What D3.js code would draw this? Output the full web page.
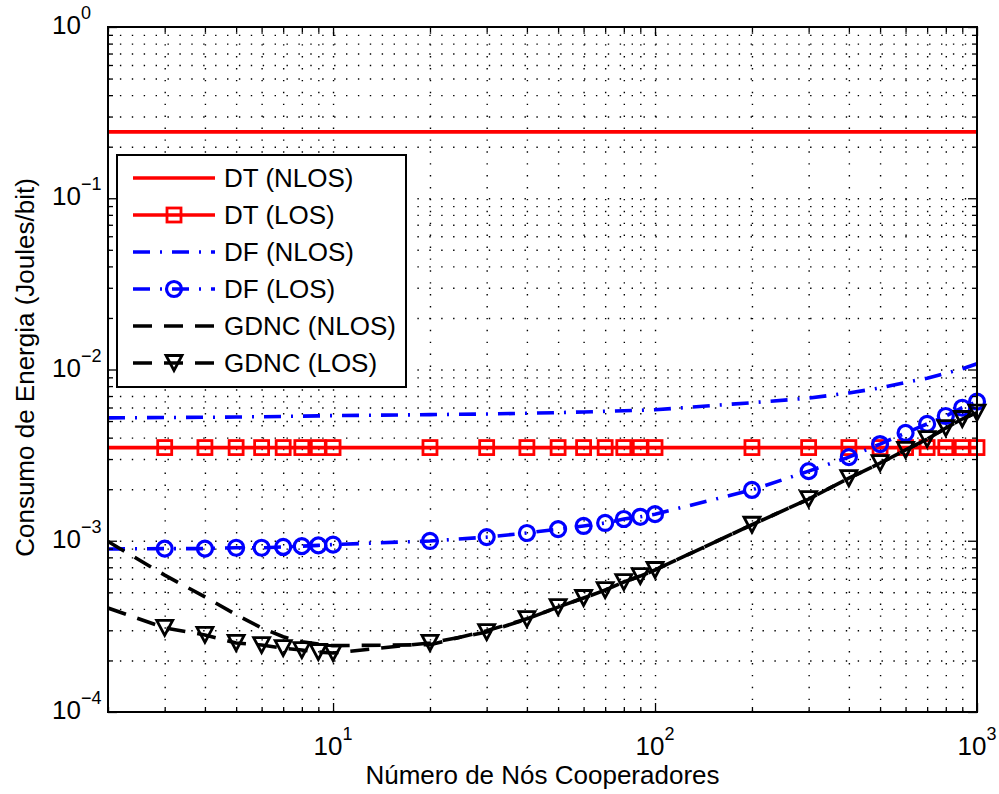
<!DOCTYPE html>
<html><head><meta charset="utf-8">
<script src="https://cdn.jsdelivr.net/npm/d3@7"></script>
<style>
body{margin:0;background:#fff;}
svg{display:block;font-family:"Liberation Sans",Arial,Helvetica,sans-serif;}
</style></head>
<body><svg id="c" width="999" height="794"></svg>
<script>
const xVals = [2,3,4,5,6,7,8,9,10,20,30,40,50,60,70,80,90,100,200,300,400,500,600,700,800,900,1000];
const dtNlos = [0.244,0.244,0.244,0.244,0.244,0.244,0.244,0.244,0.244,0.244,0.244,0.244,0.244,0.244,0.244,0.244,0.244,0.244,0.244,0.244,0.244,0.244,0.244,0.244,0.244,0.244,0.244];
const dtLos = [0.0035,0.0035,0.0035,0.0035,0.0035,0.0035,0.0035,0.0035,0.0035,0.0035,0.0035,0.0035,0.0035,0.0035,0.0035,0.0035,0.0035,0.0035,0.0035,0.0035,0.0035,0.0035,0.0035,0.0035,0.0035,0.0035,0.0035];
const dfNlos = [0.00522,0.00524,0.00526,0.00528,0.0053,0.00532,0.00534,0.00536,0.00538,0.00545,0.0055,0.00555,0.0056,0.00565,0.0057,0.00574,0.00578,0.00582,0.0064,0.0068,0.0073,0.0078,0.0084,0.0089,0.0095,0.0101,0.0108];
const dfLos = [0.000895,0.0009,0.0009,0.00091,0.00091,0.00092,0.00093,0.00094,0.00095,0.000997,0.00105,0.00111,0.00117,0.00122,0.00127,0.00134,0.00138,0.00143,0.00198,0.00255,0.00308,0.00367,0.00426,0.00481,0.00535,0.00598,0.00649];
const gdncNlos = [0.00099,0.00063,0.00047,0.00037,0.00031,0.000275,0.000257,0.000249,0.000244,0.000247,0.000298,0.00035,0.00041,0.000463,0.000515,0.000574,0.000622,0.000675,0.00124,0.00175,0.00232,0.00284,0.00339,0.00392,0.00455,0.00514,0.0056];
const gdncLos = [0.000405,0.00031,0.000282,0.000253,0.000246,0.000236,0.00023,0.000224,0.000221,0.000253,0.000293,0.000349,0.00041,0.000463,0.000515,0.000574,0.000622,0.000675,0.00124,0.00175,0.00232,0.00284,0.00339,0.00392,0.00455,0.00514,0.0056];
const seriesNames = ["DT (NLOS)","DT (LOS)","DF (NLOS)","DF (LOS)","GDNC (NLOS)","GDNC (LOS)"];
const xTickExps = [1,2,3];
const yTickExps = [0,-1,-2,-3,-4];
const xLabel = "Número de Nós Cooperadores";
const yLabel = "Consumo de Energia (Joules/bit)";

const L=108,R=977,T=27,B=712;
const FS=26, FSE=18;
const svg=d3.select("#c");
const x=d3.scaleLog().domain([2,1000]).range([L,R]);
const y=d3.scaleLog().domain([1e-4,1]).range([B,T]);

const xMajor=xTickExps.map(e=>Math.pow(10,e));
const yMajor=yTickExps.map(e=>Math.pow(10,e));
const xMinor=[];for(let e=0;e<3;e++)for(let k=2;k<=9;k++){const v=k*Math.pow(10,e);if(v>=2&&v<=1000)xMinor.push(v);}
const yMinor=[];for(let e=-4;e<0;e++)for(let k=2;k<=9;k++)yMinor.push(k*Math.pow(10,e));

// grid
const gridX=svg.append("g").attr("transform",`translate(0,${B})`)
  .call(d3.axisBottom(x).tickValues(xMajor.concat(xMinor).filter(v=>v>2&&v<1000)).tickSize(-(B-T)).tickFormat(""));
const gridY=svg.append("g").attr("transform",`translate(${L},0)`)
  .call(d3.axisLeft(y).tickValues(yMajor.concat(yMinor).filter(v=>v>1e-4&&v<1)).tickSize(-(R-L)).tickFormat(""));
[gridX,gridY].forEach(g=>{g.select(".domain").remove();
  g.selectAll("line").attr("stroke","#000").attr("stroke-width",1.4).attr("stroke-dasharray","1.4,10.5");});

// series
const line=d3.line().x((d,i)=>x(xVals[i])).y(d=>y(d));
svg.append("clipPath").attr("id","clip").append("rect").attr("x",L).attr("y",T).attr("width",R-L).attr("height",B-T);
const styles=[
 {data:dtNlos,color:"#ff0000",dash:null,marker:null},
 {data:dtLos,color:"#ff0000",dash:null,marker:"square"},
 {data:dfNlos,color:"#0000ff",dash:"17,10,2,10",marker:null},
 {data:dfLos,color:"#0000ff",dash:"17,10,2,10",marker:"circle"},
 {data:gdncNlos,color:"#000",dash:"19,12",marker:null},
 {data:gdncLos,color:"#000",dash:"19,12",marker:"tri"}
];
function drawMarker(g,type,cx,cy,color){
  if(type==="square") g.append("rect").attr("x",cx-7).attr("y",cy-7).attr("width",14).attr("height",14)
     .attr("fill","none").attr("stroke",color).attr("stroke-width",2.8);
  else if(type==="circle") g.append("circle").attr("cx",cx).attr("cy",cy).attr("r",7.5)
     .attr("fill","none").attr("stroke",color).attr("stroke-width",3.2);
  else if(type==="tri") g.append("path").attr("d",`M${cx-8},${cy-7.5}L${cx+8},${cy-7.5}L${cx},${cy+7.5}Z`)
     .attr("fill","none").attr("stroke",color).attr("stroke-width",2.8).attr("stroke-linejoin","miter");
}
styles.forEach(s=>{
  const g=svg.append("g");
  g.append("path").datum(s.data).attr("d",line).attr("fill","none").attr("stroke",s.color)
   .attr("stroke-width",3.6).attr("stroke-dasharray",s.dash).attr("clip-path","url(#clip)");
  if(s.marker){
    s.data.forEach((v,i)=>{ if(xVals[i]>2) drawMarker(g,s.marker,x(xVals[i]),y(v),s.color); });
  }
});

// axes box and ticks
const ax=svg.append("g");
function tk(g){g.select(".domain").remove();g.selectAll("line").attr("stroke","#000").attr("stroke-width",1.3);}
ax.append("g").attr("transform",`translate(0,${B})`).call(d3.axisBottom(x).tickValues(xMajor).tickSize(-9).tickFormat("")).call(tk);
ax.append("g").attr("transform",`translate(0,${B})`).call(d3.axisBottom(x).tickValues(xMinor).tickSize(-5).tickFormat("")).call(tk);
ax.append("g").attr("transform",`translate(0,${T})`).call(d3.axisTop(x).tickValues(xMajor).tickSize(-9).tickFormat("")).call(tk);
ax.append("g").attr("transform",`translate(0,${T})`).call(d3.axisTop(x).tickValues(xMinor).tickSize(-5).tickFormat("")).call(tk);
ax.append("g").attr("transform",`translate(${L},0)`).call(d3.axisLeft(y).tickValues(yMajor).tickSize(-9).tickFormat("")).call(tk);
ax.append("g").attr("transform",`translate(${L},0)`).call(d3.axisLeft(y).tickValues(yMinor).tickSize(-5).tickFormat("")).call(tk);
ax.append("g").attr("transform",`translate(${R},0)`).call(d3.axisRight(y).tickValues(yMajor).tickSize(-9).tickFormat("")).call(tk);
ax.append("g").attr("transform",`translate(${R},0)`).call(d3.axisRight(y).tickValues(yMinor).tickSize(-5).tickFormat("")).call(tk);
ax.append("rect").attr("x",L).attr("y",T).attr("width",R-L).attr("height",B-T).attr("fill","none").attr("stroke","#000").attr("stroke-width",2);

// tick labels
xTickExps.forEach(e=>{
  const t=svg.append("text").attr("x",x(Math.pow(10,e))).attr("y",755).attr("text-anchor","middle").attr("font-size",FS);
  t.append("tspan").text("10");
  t.append("tspan").attr("dy",-15).attr("font-size",FSE).text(String(e));
});
yTickExps.forEach(e=>{
  const t=svg.append("text").attr("x",52).attr("y",y(Math.pow(10,e))+7).attr("text-anchor","start").attr("font-size",FS);
  t.append("tspan").text("10");
  t.append("tspan").attr("dy",-15).attr("font-size",FSE).text(e<0?"\u2212"+(-e):String(e));
});
svg.append("text").attr("x",(L+R)/2).attr("y",784).attr("text-anchor","middle").attr("font-size",FS).text(xLabel);
svg.append("text").attr("transform",`translate(34,${(T+B)/2-2}) rotate(-90)`).attr("text-anchor","middle").attr("font-size",FS).text(yLabel);

// legend
const lg=svg.append("g");
lg.append("rect").attr("x",117).attr("y",155).attr("width",289).attr("height",232).attr("fill","#fff").attr("stroke","#000").attr("stroke-width",2);
styles.forEach((s,i)=>{
  const cy=178+i*37;
  lg.append("line").attr("x1",133).attr("x2",215).attr("y1",cy).attr("y2",cy).attr("stroke",s.color)
    .attr("stroke-width",3.6).attr("stroke-dasharray",s.dash);
  if(s.marker) drawMarker(lg,s.marker,174,cy,s.color);
  lg.append("text").attr("x",224).attr("y",cy+9).attr("font-size",FS).text(seriesNames[i]);
});
</script></body></html>
